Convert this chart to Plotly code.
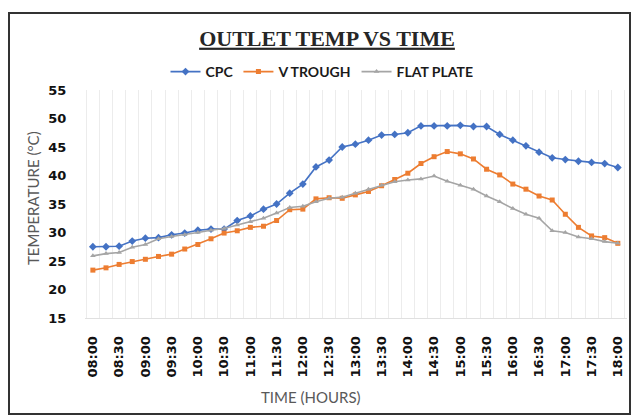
import plotly.graph_objects as go

times = [f"{8 + (i * 15) // 60:02d}:{(i * 15) % 60:02d}" for i in range(41)]

cpc = [27.5, 27.5, 27.6, 28.5, 29.0, 29.1, 29.6, 29.9, 30.4, 30.6, 30.6, 32.1, 32.9, 34.1,
       35.0, 36.9, 38.5, 41.5, 42.7, 45.0, 45.5, 46.2, 47.1, 47.2, 47.5, 48.7, 48.7, 48.7,
       48.8, 48.6, 48.6, 47.2, 46.2, 45.2, 44.1, 43.1, 42.8, 42.5, 42.3, 42.1, 41.4]
v_trough = [23.4, 23.8, 24.4, 24.9, 25.3, 25.8, 26.2, 27.1, 27.9, 28.9, 29.9, 30.3, 30.9, 31.1,
            32.1, 34.0, 34.1, 35.9, 36.1, 36.0, 36.6, 37.2, 38.2, 39.3, 40.4, 42.1, 43.3, 44.2,
            43.8, 42.9, 41.1, 40.1, 38.5, 37.6, 36.4, 35.7, 33.2, 30.9, 29.4, 29.1, 28.1]
flat_plate = [25.9, 26.3, 26.5, 27.4, 27.9, 28.9, 29.3, 29.6, 30.0, 30.4, 30.7, 31.3, 31.9, 32.5,
              33.4, 34.4, 34.6, 35.4, 36.0, 36.2, 36.9, 37.6, 38.3, 38.9, 39.2, 39.4, 39.9, 39.0,
              38.3, 37.6, 36.4, 35.4, 34.2, 33.2, 32.5, 30.3, 30.0, 29.2, 28.9, 28.4, 28.1]

y_ticks = [15, 20, 25, 30, 35, 40, 45, 50, 55]

idx = list(range(len(times)))
label_idx = idx[::2]
label_text = [times[i] for i in label_idx]

fig = go.Figure()
series = [
    ("CPC", cpc, "#4472C4", "diamond", 6),
    ("V TROUGH", v_trough, "#ED7D31", "square", 5),
    ("FLAT PLATE", flat_plate, "#A5A5A5", "triangle-up", 5),
]
for name, vals, col, sym, sz in series:
    fig.add_trace(go.Scatter(
        x=idx, y=vals, name=name, mode="lines+markers",
        line=dict(color=col, width=1.6),
        marker=dict(symbol=sym, size=sz, color=col),
    ))

L, R, T, B = 85, 627, 90, 318
W, H = 632, 417

def px(x):
    return (x - L) / (R - L)

def py(y):
    return (B - y) / (B - T)

fig.update_layout(
    width=W, height=H,
    margin=dict(l=L, r=W - R, t=T, b=H - B),
    paper_bgcolor="white", plot_bgcolor="white",
    showlegend=True,
    legend=dict(orientation="h", x=px(322), y=py(72), xanchor="center", yanchor="middle",
                font=dict(family="Lato", size=14, color="#1a1a1a", weight="bold"),
                itemwidth=30, tracegroupgap=0, bgcolor="rgba(0,0,0,0)"),
    title=dict(text="<u>OUTLET TEMP VS TIME</u>", x=px(327), xref="paper", xanchor="center",
               y=1 - 38 / H, yanchor="middle",
               font=dict(family="Liberation Serif", size=22, color="#262626", weight="bold")),
)

fig.update_xaxes(
    range=[-0.6, 40.7],
    tickmode="array", tickvals=label_idx, ticktext=label_text, tickangle=-90,
    tickfont=dict(family="DejaVu Sans", size=13, color="#111111", weight="bold"),
    showgrid=False, ticks="", ticklabelstandoff=12,
    showline=True, linecolor="#e0e0e0", linewidth=1,
    minor=dict(tickvals=[i + 0.5 for i in range(-1, 41)], showgrid=True,
               gridcolor="#ececec", gridwidth=1),
    zeroline=False,
)
fig.update_yaxes(
    range=[15, 55], tickvals=y_ticks,
    tickfont=dict(family="DejaVu Sans", size=13, color="#111111", weight="bold"),
    showgrid=False, zeroline=False,
    ticks="outside", ticklen=15, tickcolor="rgba(255,255,255,0)",
)

fig.add_annotation(text="TEMPERATURE (°C)", xref="paper", yref="paper",
                   x=px(33), y=py(198), textangle=-90, showarrow=False,
                   xanchor="center", yanchor="middle",
                   font=dict(family="Lato", size=15, color="#595959"))
fig.add_annotation(text="TIME (HOURS)", xref="paper", yref="paper",
                   x=px(311), y=py(397), showarrow=False,
                   xanchor="center", yanchor="middle",
                   font=dict(family="Lato", size=15, color="#595959"))

fig.add_shape(type="rect", xref="paper", yref="paper",
              x0=px(9), x1=px(630), y0=py(414), y1=py(13),
              line=dict(color="#333333", width=2), fillcolor="rgba(0,0,0,0)", layer="below")

fig.write_html("out.html", config={"displayModeBar": False},
               post_script="document.body.style.margin='0';document.body.style.overflow='hidden';")
